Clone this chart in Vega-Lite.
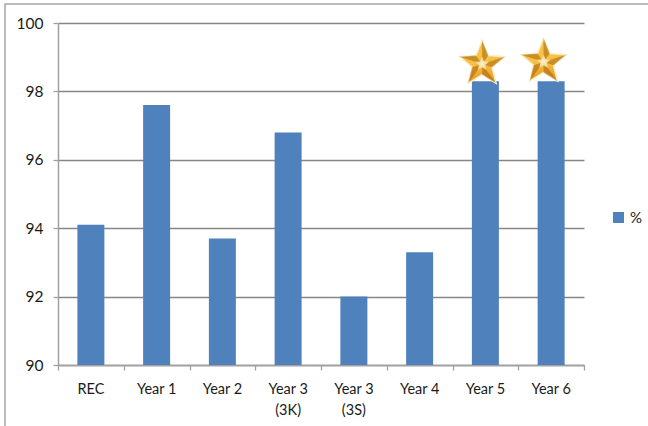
{"$schema":"https://vega.github.io/schema/vega-lite/v6.json","width":526,"height":342,"padding":{"left":58,"top":23,"right":64,"bottom":61},"autosize":{"type":"none"},"background":"white","config":{"view":{"stroke":null},"font":"Lato"},"datasets":{"bars":[{"group":"REC","pct":94.1,"series":"%"},{"group":"Year 1","pct":97.6,"series":"%"},{"group":"Year 2","pct":93.7,"series":"%"},{"group":"Year 3 (3K)","pct":96.8,"series":"%"},{"group":"Year 3 (3S)","pct":92.0,"series":"%"},{"group":"Year 4","pct":93.3,"series":"%"},{"group":"Year 5","pct":98.3,"series":"%"},{"group":"Year 6","pct":98.3,"series":"%"}],"stars":[{"pos":6.45,"level":98.8},{"pos":7.385,"level":98.86}],"frame":[{"x0":-0.806,"x1":9.5,"y0":87,"y1":100.556}],"ticks":[{"pos":0,"level":90},{"pos":8,"level":90}]},"layer":[{"data":{"name":"bars"},"mark":{"type":"bar","size":27,"clip":true},"encoding":{"x":{"field":"group","type":"nominal","sort":null,"title":null,"scale":{"paddingInner":0,"paddingOuter":0},"axis":{"orient":"bottom","ticks":false,"domain":false,"grid":false,"labelAngle":0,"labelFont":"Lato","labelFontSize":14.5,"labelColor":"#1a1a1a","labelPadding":17,"labelLineHeight":21,"labelExpr":"indexof(datum.label,'(')>0 ? [slice(datum.label,0,6), slice(datum.label,7)] : datum.label"}},"y":{"field":"pct","type":"quantitative","title":null,"scale":{"domain":[90,100]},"axis":{"values":[90,92,94,96,98,100],"grid":true,"gridColor":"#868686","gridWidth":1.3,"domainColor":"#a0a0a0","domainWidth":1.5,"tickColor":"#a0a0a0","tickSize":5,"tickWidth":1.3,"labelFont":"Lato","labelFontSize":15.5,"labelColor":"#1a1a1a","labelPadding":10}},"color":{"field":"series","type":"nominal","scale":{"range":["#4F81BD"]},"legend":{"title":null,"orient":"none","legendX":553,"legendY":187,"padding":0,"symbolType":"square","symbolSize":121,"symbolStrokeWidth":0,"labelFont":"Lato","labelFontSize":15,"labelColor":"#1a1a1a","labelOffset":4}}}},{"data":{"name":"frame"},"mark":{"type":"rect","fill":null,"stroke":"#a6a6a6","strokeWidth":1.5},"encoding":{"x":{"field":"x0","type":"quantitative","scale":{"domain":[0,8]},"axis":null},"x2":{"field":"x1"},"y":{"field":"y0","type":"quantitative","title":null},"y2":{"field":"y1"}}},{"data":{"name":"ticks"},"mark":{"type":"point","opacity":0},"encoding":{"x":{"field":"pos","type":"quantitative","title":null,"scale":{"domain":[0,8]},"axis":{"orient":"bottom","values":[0,1,2,3,4,5,6,7,8],"labels":false,"grid":false,"domainColor":"#a0a0a0","domainWidth":1.5,"tickColor":"#a0a0a0","tickSize":5,"tickWidth":1.3}},"y":{"field":"level","type":"quantitative","title":null}}},{"data":{"name":"stars"},"layer":[{"mark":{"type":"point","filled":true,"opacity":1,"size":2266,"shape":"M0 -1L.259 -.356L.951 -.309L.418 .136L.588 .809L0 .44L-.588 .809L-.418 .136L-.951 -.309L-.259 -.356Z","strokeWidth":1.5,"stroke":"#fbeecb","fill":{"x1":0,"y1":0,"x2":0,"y2":1,"gradient":"linear","stops":[{"offset":0,"color":"#f8c440"},{"offset":0.55,"color":"#f7c048"},{"offset":1,"color":"#e0961c"}]}}},{"mark":{"type":"point","filled":true,"opacity":0.55,"size":2266,"strokeWidth":0,"fill":"#a8640a","shape":"M0 0L0 -1L.259 -.356ZM0 0L.951 -.309L.418 .136ZM0 0L.588 .809L0 .44ZM0 0L-.588 .809L-.418 .136ZM0 0L-.951 -.309L-.259 -.356Z"}},{"mark":{"type":"point","filled":true,"opacity":0.85,"size":220,"strokeWidth":0,"shape":"M0 -1L.259 -.356L.951 -.309L.418 .136L.588 .809L0 .44L-.588 .809L-.418 .136L-.951 -.309L-.259 -.356Z","fill":{"gradient":"radial","x1":0.5,"y1":0.55,"x2":0.5,"y2":0.55,"r1":0,"r2":0.6,"stops":[{"offset":0,"color":"#fffdf0"},{"offset":1,"color":"#f8d070"}]}}}],"encoding":{"x":{"field":"pos","type":"quantitative","scale":{"domain":[0,8]},"axis":null},"y":{"field":"level","type":"quantitative","title":null}}}],"resolve":{"scale":{"x":"independent"},"axis":{"x":"independent"}}}
